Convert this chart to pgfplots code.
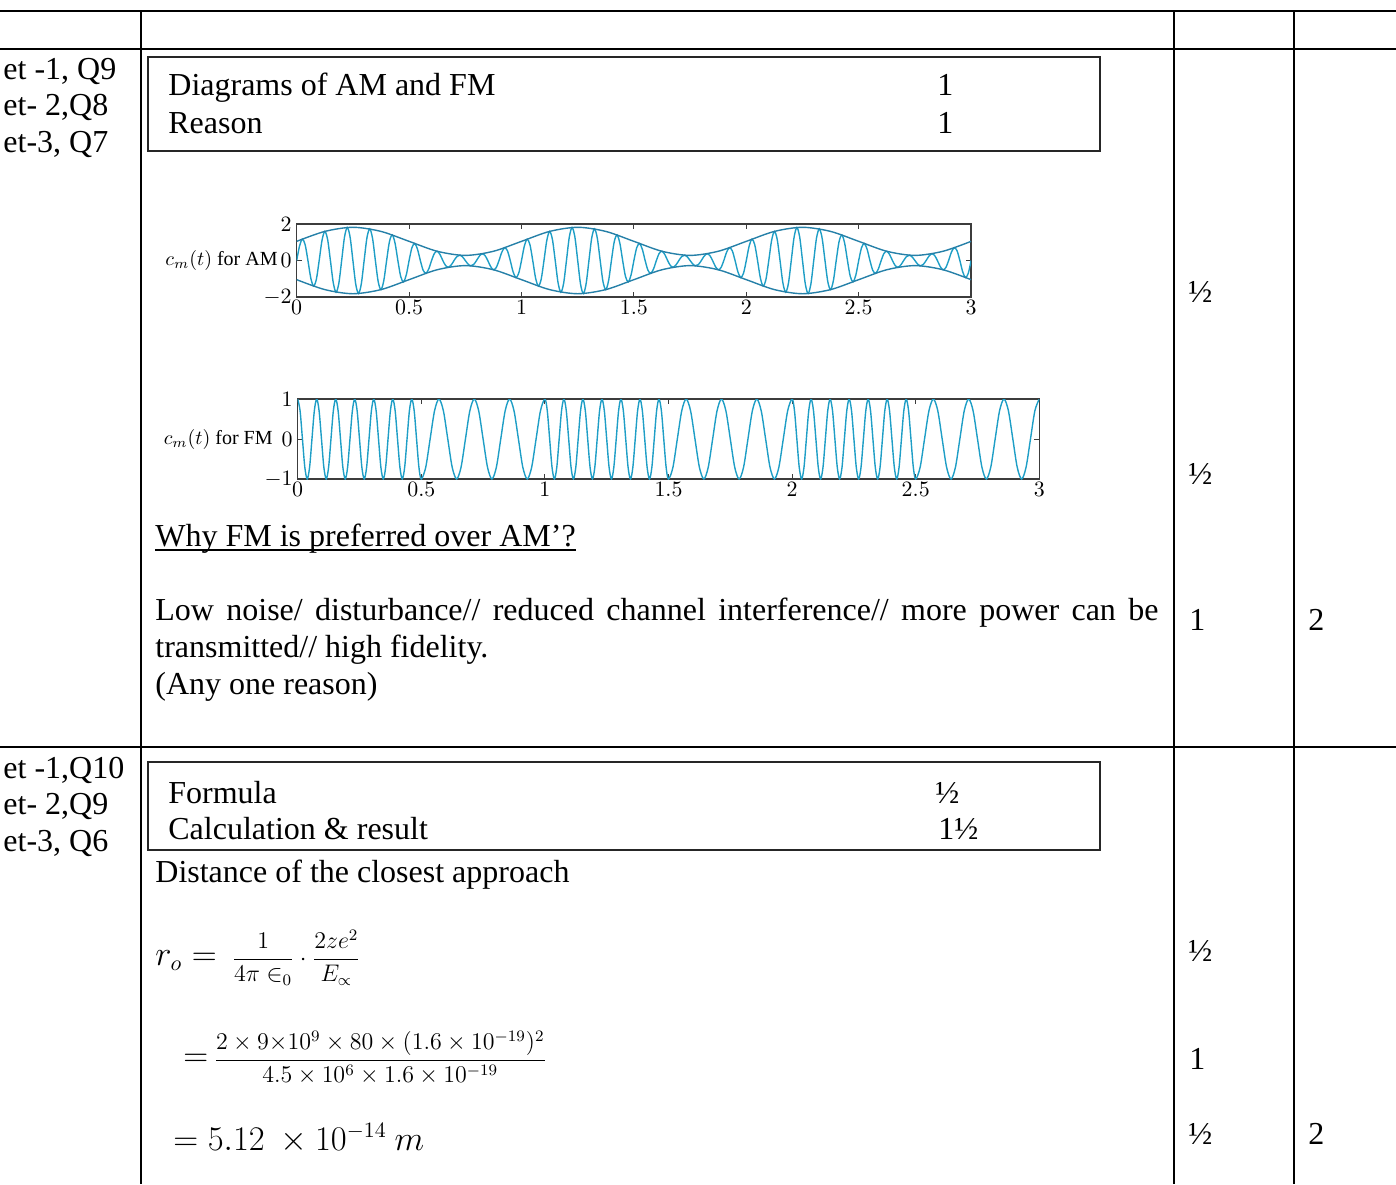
\documentclass[border=0pt]{standalone}
\usepackage{fontspec}
\setmainfont{Liberation Serif}
\usepackage{pgfplots}
\pgfplotsset{compat=1.18}
\definecolor{carrier}{RGB}{30,158,198}
\definecolor{envel}{RGB}{38,128,168}
\definecolor{axisgray}{RGB}{60,60,60}
\newcommand\body{\fontsize{16}{18.5}\selectfont}
\newcommand\fsmall{\fontsize{11.5}{13}\selectfont}
\pgfplotsset{
  sigaxis/.style={
    scale only axis, anchor=south west,
    xmin=0, xmax=3,
    xtick={0,0.5,1,1.5,2,2.5,3},
    tick align=inside, major tick length=2.5pt,
    axis line style={axisgray,line width=0.7pt},
    every tick/.style={axisgray,line width=0.5pt},
    tick label style={font=\fontsize{11}{12}\selectfont},
    xticklabel style={yshift=2pt},
    yticklabel style={xshift=1pt},
    every axis y label/.style={at={(rel axis cs:0,0.5)},anchor=east,font=\fontsize{10}{11}\selectfont},
    clip=true,
  }
}
\begin{document}
\begin{tikzpicture}[x=0.5pt,y=0.5pt]
\path[use as bounding box] (0,0) rectangle (1396,-1184);
% table rules
\draw[line width=1pt] (0,-11) -- (1396,-11);
\draw[line width=1pt] (0,-49) -- (1396,-49);
\draw[line width=1pt] (0,-747) -- (1396,-747);
\draw[line width=1pt] (141,-11) -- (141,-1184);
\draw[line width=1pt] (1174,-11) -- (1174,-1184);
\draw[line width=1pt] (1294,-11) -- (1294,-1184);
% boxes
\draw[line width=0.75pt, black!85] (148,-57) rectangle (1100,-151);
\draw[line width=0.75pt, black!85] (148,-762) rectangle (1100,-850);
\begin{scope}[every node/.style={anchor=base west,inner sep=0,font=\body}]
\node at (3,-79) {et -1, Q9};
\node at (3,-115) {et- 2,Q8};
\node at (3,-152) {et-3, Q7};
\node at (3,-778) {et -1,Q10};
\node at (3,-814) {et- 2,Q9};
\node at (3,-851) {et-3, Q6};
\node at (168,-95) {Diagrams of AM and FM};
\node at (168,-133) {Reason};
\node at (937,-95) {1};
\node at (937,-133) {1};
\node at (168,-803) {Formula};
\node at (168,-839) {Calculation \& result};
\node at (935,-803) {½};
\node at (938,-839) {1½};
\node (why) at (155,-546) {Why FM is preferred over AM’?};
\node at (155,-620) {\makebox[501.5pt][s]{Low noise/ disturbance// reduced channel interference// more power can be}};
\node at (155,-657) {transmitted// high fidelity.};
\node at (155,-694) {(Any one reason)};
\node at (155,-882) {Distance of the closest approach};
\node at (155,-965) {$r_o = {}$\,{\fsmall$\displaystyle\frac{1}{4\pi\in_0}\cdot\frac{2ze^2}{E_\propto}$}};
\node at (183,-1066) {$=$\,{\fsmall$\displaystyle\frac{2\times 9{\times}10^9 \times 80 \times (1.6 \times 10^{-19})^2}{4.5 \times 10^6 \times 1.6 \times 10^{-19}}$}};
\node at (173,-1150) {$= 5.12\ \times 10^{-14}\ m$};
\node at (1188,-302) {½};
\node at (1188,-484) {½};
\node at (1189,-630) {1};
\node at (1308,-630) {2};
\node at (1188,-961) {½};
\node at (1189,-1069) {1};
\node at (1188,-1144) {½};
\node at (1308,-1144) {2};
\end{scope}
\draw[line width=0.6pt] ([yshift=-2pt]why.base west) -- ([yshift=-2pt]why.base east);

% AM plot
\begin{axis}[sigaxis, at={(148.35pt,-148.5pt)}, width=337.2pt, height=36.5pt,
  ymin=-2, ymax=2, ytick={-2,0,2},
  ylabel={$c_m(t)$ for AM}, ylabel style={xshift=-6pt}]
\addplot[carrier, line width=0.7pt, smooth] coordinates {
(0,0)(0.0125,0.785)(0.025,1.170)(0.0375,0.870)(0.05,0)(0.0625,-0.951)(0.075,-1.400)(0.0875,-1.027)(0.1,0)(0.1125,1.096)(0.125,1.594)(0.1375,1.156)(0.15,0)(0.1625,-1.207)(0.175,-1.736)(0.1875,-1.245)(0.2,0)(0.2125,1.272)(0.225,1.811)(0.2375,1.285)(0.25,0)(0.2625,-1.285)(0.275,-1.811)(0.2875,-1.272)(0.3,0)(0.3125,1.245)(0.325,1.736)(0.3375,1.207)(0.35,0)(0.3625,-1.156)(0.375,-1.594)(0.3875,-1.096)(0.4,0)(0.4125,1.027)(0.425,1.400)(0.4375,0.951)(0.45,0)(0.4625,-0.870)(0.475,-1.170)(0.4875,-0.785)(0.5,0)(0.5125,0.700)(0.525,0.930)(0.5375,0.615)(0.55,0)(0.5625,-0.534)(0.575,-0.700)(0.5875,-0.458)(0.6,0)(0.6125,0.389)(0.625,0.506)(0.6375,0.328)(0.65,0)(0.6625,-0.278)(0.675,-0.364)(0.6875,-0.240)(0.7,0)(0.7125,0.213)(0.725,0.289)(0.7375,0.199)(0.75,0)(0.7625,-0.199)(0.775,-0.289)(0.7875,-0.213)(0.8,0)(0.8125,0.240)(0.825,0.364)(0.8375,0.278)(0.85,0)(0.8625,-0.328)(0.875,-0.506)(0.8875,-0.389)(0.9,0)(0.9125,0.458)(0.925,0.700)(0.9375,0.534)(0.95,0)(0.9625,-0.615)(0.975,-0.930)(0.9875,-0.700)(1,0)
(1.0125,0.785)(1.025,1.170)(1.0375,0.870)(1.05,0)(1.0625,-0.951)(1.075,-1.400)(1.0875,-1.027)(1.1,0)(1.1125,1.096)(1.125,1.594)(1.1375,1.156)(1.15,0)(1.1625,-1.207)(1.175,-1.736)(1.1875,-1.245)(1.2,0)(1.2125,1.272)(1.225,1.811)(1.2375,1.285)(1.25,0)(1.2625,-1.285)(1.275,-1.811)(1.2875,-1.272)(1.3,0)(1.3125,1.245)(1.325,1.736)(1.3375,1.207)(1.35,0)(1.3625,-1.156)(1.375,-1.594)(1.3875,-1.096)(1.4,0)(1.4125,1.027)(1.425,1.400)(1.4375,0.951)(1.45,0)(1.4625,-0.870)(1.475,-1.170)(1.4875,-0.785)(1.5,0)(1.5125,0.700)(1.525,0.930)(1.5375,0.615)(1.55,0)(1.5625,-0.534)(1.575,-0.700)(1.5875,-0.458)(1.6,0)(1.6125,0.389)(1.625,0.506)(1.6375,0.328)(1.65,0)(1.6625,-0.278)(1.675,-0.364)(1.6875,-0.240)(1.7,0)(1.7125,0.213)(1.725,0.289)(1.7375,0.199)(1.75,0)(1.7625,-0.199)(1.775,-0.289)(1.7875,-0.213)(1.8,0)(1.8125,0.240)(1.825,0.364)(1.8375,0.278)(1.85,0)(1.8625,-0.328)(1.875,-0.506)(1.8875,-0.389)(1.9,0)(1.9125,0.458)(1.925,0.700)(1.9375,0.534)(1.95,0)(1.9625,-0.615)(1.975,-0.930)(1.9875,-0.700)(2,0)
(2.0125,0.785)(2.025,1.170)(2.0375,0.870)(2.05,0)(2.0625,-0.951)(2.075,-1.400)(2.0875,-1.027)(2.1,0)(2.1125,1.096)(2.125,1.594)(2.1375,1.156)(2.15,0)(2.1625,-1.207)(2.175,-1.736)(2.1875,-1.245)(2.2,0)(2.2125,1.272)(2.225,1.811)(2.2375,1.285)(2.25,0)(2.2625,-1.285)(2.275,-1.811)(2.2875,-1.272)(2.3,0)(2.3125,1.245)(2.325,1.736)(2.3375,1.207)(2.35,0)(2.3625,-1.156)(2.375,-1.594)(2.3875,-1.096)(2.4,0)(2.4125,1.027)(2.425,1.400)(2.4375,0.951)(2.45,0)(2.4625,-0.870)(2.475,-1.170)(2.4875,-0.785)(2.5,0)(2.5125,0.700)(2.525,0.930)(2.5375,0.615)(2.55,0)(2.5625,-0.534)(2.575,-0.700)(2.5875,-0.458)(2.6,0)(2.6125,0.389)(2.625,0.506)(2.6375,0.328)(2.65,0)(2.6625,-0.278)(2.675,-0.364)(2.6875,-0.240)(2.7,0)(2.7125,0.213)(2.725,0.289)(2.7375,0.199)(2.75,0)(2.7625,-0.199)(2.775,-0.289)(2.7875,-0.213)(2.8,0)(2.8125,0.240)(2.825,0.364)(2.8375,0.278)(2.85,0)(2.8625,-0.328)(2.875,-0.506)(2.8875,-0.389)(2.9,0)(2.9125,0.458)(2.925,0.700)(2.9375,0.534)(2.95,0)(2.9625,-0.615)(2.975,-0.930)(2.9875,-0.700)(3,0)
};
\addplot[envel, line width=0.7pt, smooth] coordinates {
(0,1.05)(0.125,1.594)(0.25,1.82)(0.375,1.594)(0.5,1.05)(0.625,0.506)(0.75,0.28)(0.875,0.506)
(1,1.05)(1.125,1.594)(1.25,1.82)(1.375,1.594)(1.5,1.05)(1.625,0.506)(1.75,0.28)(1.875,0.506)
(2,1.05)(2.125,1.594)(2.25,1.82)(2.375,1.594)(2.5,1.05)(2.625,0.506)(2.75,0.28)(2.875,0.506)(3,1.05)
};
\addplot[envel, line width=0.7pt, smooth] coordinates {
(0,-1.05)(0.125,-1.594)(0.25,-1.82)(0.375,-1.594)(0.5,-1.05)(0.625,-0.506)(0.75,-0.28)(0.875,-0.506)
(1,-1.05)(1.125,-1.594)(1.25,-1.82)(1.375,-1.594)(1.5,-1.05)(1.625,-0.506)(1.75,-0.28)(1.875,-0.506)
(2,-1.05)(2.125,-1.594)(2.25,-1.82)(2.375,-1.594)(2.5,-1.05)(2.625,-0.506)(2.75,-0.28)(2.875,-0.506)(3,-1.05)
};
\end{axis}

% FM plot
\begin{axis}[sigaxis, at={(148.85pt,-239.5pt)}, width=370.8pt, height=40pt,
  ymin=-1, ymax=1, ytick={-1,0,1},
  ylabel={$c_m(t)$ for FM}, ylabel style={xshift=-9pt}]
\addplot[carrier, line width=0.7pt, smooth] coordinates {
(0,1)(0.0096,0.707)(0.0192,0)(0.0288,-0.707)(0.0385,-1)(0.0481,-0.707)(0.0577,0)(0.0673,0.707)(0.0769,1)(0.0865,0.707)(0.0962,0)(0.1058,-0.707)(0.1154,-1)(0.1250,-0.707)(0.1346,0)(0.1442,0.707)(0.1538,1)(0.1635,0.707)(0.1731,0)(0.1827,-0.707)(0.1923,-1)(0.2019,-0.707)(0.2115,0)(0.2212,0.707)(0.2308,1)(0.2404,0.707)(0.2500,0)(0.2596,-0.707)(0.2692,-1)(0.2788,-0.707)(0.2885,0)(0.2981,0.707)(0.3077,1)(0.3173,0.707)(0.3269,0)(0.3365,-0.707)(0.3462,-1)(0.3558,-0.707)(0.3654,0)(0.3750,0.707)(0.3846,1)(0.3942,0.707)(0.4038,0)(0.4135,-0.707)(0.4231,-1)(0.4327,-0.707)(0.4423,0)(0.4519,0.707)(0.4615,1)(0.4712,0.707)(0.4808,0)(0.4904,-0.707)(0.5000,-1)
(0.5179,-0.707)(0.5357,0)(0.5536,0.707)(0.5714,1)(0.5893,0.707)(0.6071,0)(0.6250,-0.707)(0.6429,-1)(0.6607,-0.707)(0.6786,0)(0.6964,0.707)(0.7143,1)(0.7321,0.707)(0.7500,0)(0.7679,-0.707)(0.7857,-1)(0.8036,-0.707)(0.8214,0)(0.8393,0.707)(0.8571,1)(0.8750,0.707)(0.8929,0)(0.9107,-0.707)(0.9286,-1)(0.9464,-0.707)(0.9643,0)(0.9821,0.707)(1.0000,1)
(1.0096,0.707)(1.0192,0)(1.0288,-0.707)(1.0385,-1)(1.0481,-0.707)(1.0577,0)(1.0673,0.707)(1.0769,1)(1.0865,0.707)(1.0962,0)(1.1058,-0.707)(1.1154,-1)(1.1250,-0.707)(1.1346,0)(1.1442,0.707)(1.1538,1)(1.1635,0.707)(1.1731,0)(1.1827,-0.707)(1.1923,-1)(1.2019,-0.707)(1.2115,0)(1.2212,0.707)(1.2308,1)(1.2404,0.707)(1.2500,0)(1.2596,-0.707)(1.2692,-1)(1.2788,-0.707)(1.2885,0)(1.2981,0.707)(1.3077,1)(1.3173,0.707)(1.3269,0)(1.3365,-0.707)(1.3462,-1)(1.3558,-0.707)(1.3654,0)(1.3750,0.707)(1.3846,1)(1.3942,0.707)(1.4038,0)(1.4135,-0.707)(1.4231,-1)(1.4327,-0.707)(1.4423,0)(1.4519,0.707)(1.4615,1)(1.4712,0.707)(1.4808,0)(1.4904,-0.707)(1.5000,-1)
(1.5179,-0.707)(1.5357,0)(1.5536,0.707)(1.5714,1)(1.5893,0.707)(1.6071,0)(1.6250,-0.707)(1.6429,-1)(1.6607,-0.707)(1.6786,0)(1.6964,0.707)(1.7143,1)(1.7321,0.707)(1.7500,0)(1.7679,-0.707)(1.7857,-1)(1.8036,-0.707)(1.8214,0)(1.8393,0.707)(1.8571,1)(1.8750,0.707)(1.8929,0)(1.9107,-0.707)(1.9286,-1)(1.9464,-0.707)(1.9643,0)(1.9821,0.707)(2.0000,1)
(2.0096,0.707)(2.0192,0)(2.0288,-0.707)(2.0385,-1)(2.0481,-0.707)(2.0577,0)(2.0673,0.707)(2.0769,1)(2.0865,0.707)(2.0962,0)(2.1058,-0.707)(2.1154,-1)(2.1250,-0.707)(2.1346,0)(2.1442,0.707)(2.1538,1)(2.1635,0.707)(2.1731,0)(2.1827,-0.707)(2.1923,-1)(2.2019,-0.707)(2.2115,0)(2.2212,0.707)(2.2308,1)(2.2404,0.707)(2.2500,0)(2.2596,-0.707)(2.2692,-1)(2.2788,-0.707)(2.2885,0)(2.2981,0.707)(2.3077,1)(2.3173,0.707)(2.3269,0)(2.3365,-0.707)(2.3462,-1)(2.3558,-0.707)(2.3654,0)(2.3750,0.707)(2.3846,1)(2.3942,0.707)(2.4038,0)(2.4135,-0.707)(2.4231,-1)(2.4327,-0.707)(2.4423,0)(2.4519,0.707)(2.4615,1)(2.4712,0.707)(2.4808,0)(2.4904,-0.707)(2.5000,-1)
(2.5179,-0.707)(2.5357,0)(2.5536,0.707)(2.5714,1)(2.5893,0.707)(2.6071,0)(2.6250,-0.707)(2.6429,-1)(2.6607,-0.707)(2.6786,0)(2.6964,0.707)(2.7143,1)(2.7321,0.707)(2.7500,0)(2.7679,-0.707)(2.7857,-1)(2.8036,-0.707)(2.8214,0)(2.8393,0.707)(2.8571,1)(2.8750,0.707)(2.8929,0)(2.9107,-0.707)(2.9286,-1)(2.9464,-0.707)(2.9643,0)(2.9821,0.707)(3.0000,1)
};
\end{axis}
\end{tikzpicture}
\end{document}
